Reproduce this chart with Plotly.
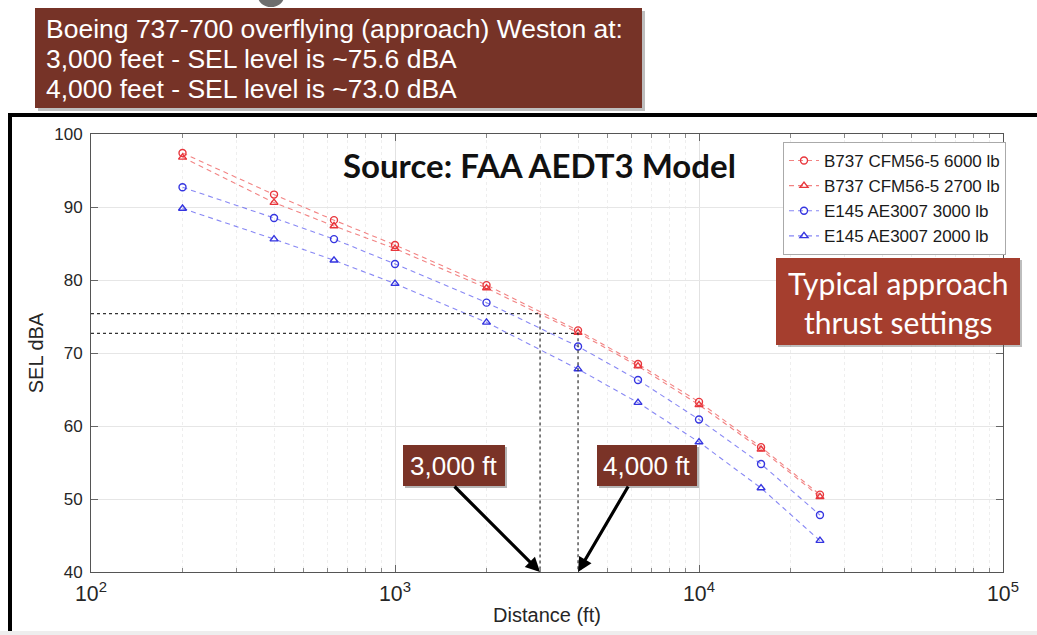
import math
import plotly.graph_objects as go

# ---------------- data ----------------
distance_ft = [200, 400, 630, 1000, 2000, 4000, 6300, 10000, 16000, 25000]
b737_6000 = [97.4, 91.7, 88.2, 84.8, 79.3, 73.1, 68.5, 63.3, 57.1, 50.6]
b737_2700 = [96.8, 90.6, 87.4, 84.3, 78.9, 72.8, 68.2, 62.9, 56.8, 50.3]
e145_3000 = [92.7, 88.5, 85.6, 82.2, 76.9, 70.9, 66.3, 60.9, 54.8, 47.8]
e145_2000 = [89.8, 85.6, 82.7, 79.5, 74.2, 67.8, 63.2, 57.8, 51.5, 44.3]
series_names = ["B737 CFM56-5 6000 lb", "B737 CFM56-5 2700 lb",
                "E145 AE3007 3000 lb", "E145 AE3007 2000 lb"]
ref_distances = [3000, 4000]
ref_levels = [75.4, 72.7]
ref_labels = ["3,000 ft", "4,000 ft"]
y_ticks = [40, 50, 60, 70, 80, 90, 100]
title_lines = ["Boeing 737-700 overflying (approach) Weston at:",
               "3,000 feet - SEL level is ~75.6 dBA",
               "4,000 feet - SEL level is ~73.0 dBA"]

# ---------------- layout helpers (pixels -> paper) ----------------
W, H = 1037, 635
L, R, T, B = 91, 1003, 134, 572


def px(x):
    return (x - L) / (R - L)


def py(y):
    return (B - y) / (B - T)


RED_LINE = "rgba(238,90,90,0.75)"
RED_MK = "#e8363c"
BLUE_LINE = "rgba(95,95,240,0.75)"
BLUE_MK = "#3535e0"

fig = go.Figure()
styles = [
    (b737_6000, RED_LINE, RED_MK, "circle-open"),
    (b737_2700, RED_LINE, RED_MK, "triangle-up-open"),
    (e145_3000, BLUE_LINE, BLUE_MK, "circle-open"),
    (e145_2000, BLUE_LINE, BLUE_MK, "triangle-up-open"),
]
for name, (vals, lc, mc, sym) in zip(series_names, styles):
    fig.add_trace(go.Scatter(
        x=distance_ft, y=vals, name=name, mode="lines+markers",
        line=dict(color=lc, width=1.1, dash="5px,4px"),
        marker=dict(symbol=sym, size=7, color=mc, line=dict(color=mc, width=1.4)),
    ))

# dotted reference lines
for d, lvl in zip(ref_distances, ref_levels):
    fig.add_trace(go.Scatter(
        x=[100, d, d], y=[lvl, lvl, y_ticks[0]], mode="lines",
        line=dict(color="#333333", width=1.2, dash="dot"),
        showlegend=False, hoverinfo="skip",
    ))

shapes = []
annotations = []

# outer black frame and bottom strip
shapes.append(dict(type="rect", xref="paper", yref="paper",
                   x0=px(10), x1=px(1050), y0=py(115), y1=py(660),
                   line=dict(color="black", width=4), fillcolor="rgba(0,0,0,0)", layer="below"))
shapes.append(dict(type="rect", xref="paper", yref="paper",
                   x0=px(0), x1=px(1040), y0=py(631), y1=py(640),
                   line=dict(width=0), fillcolor="#eeeeee", layer="above"))

# gray blob at top (partly hidden slide element)
shapes.append(dict(type="circle", xref="paper", yref="paper",
                   x0=px(258), x1=px(284), y0=py(-14), y1=py(7),
                   line=dict(width=0), fillcolor="#6e6e6e"))

# title box with shadow
shapes.append(dict(type="rect", xref="paper", yref="paper",
                   x0=px(38), x1=px(645), y0=py(11), y1=py(111),
                   line=dict(width=0), fillcolor="rgba(110,110,110,0.45)"))
shapes.append(dict(type="rect", xref="paper", yref="paper",
                   x0=px(35), x1=px(642), y0=py(8), y1=py(108),
                   line=dict(width=0), fillcolor="#763327"))
for i, line in enumerate(title_lines):
    annotations.append(dict(text=line, xref="paper", yref="paper",
                            x=px(44), y=py(29 + 30 * i), xanchor="left", yanchor="middle",
                            showarrow=False,
                            font=dict(family="Liberation Sans", size=26.5, color="white")))

# Source text
annotations.append(dict(text="<b>Source: FAA AEDT3 Model</b>", xref="paper", yref="paper",
                        x=px(539), y=py(165), xanchor="center", yanchor="middle",
                        showarrow=False,
                        font=dict(family="Lato", size=33, color="#111111")))

# Typical approach box
shapes.append(dict(type="rect", xref="paper", yref="paper",
                   x0=px(778), x1=px(1022), y0=py(260), y1=py(347),
                   line=dict(width=0), fillcolor="rgba(90,90,90,0.4)"))
shapes.append(dict(type="rect", xref="paper", yref="paper",
                   x0=px(776), x1=px(1020), y0=py(258), y1=py(345),
                   line=dict(width=0), fillcolor="#a53e2e"))
annotations.append(dict(text="Typical approach<br>thrust settings", xref="paper", yref="paper",
                        x=px(898), y=py(302), xanchor="center", yanchor="middle",
                        showarrow=False, align="center",
                        font=dict(family="Lato", size=30, color="white")))

# distance label boxes and arrows
box_x = [(403, 505), (597, 697)]
tails = [(452, 487), (628, 487)]
heads_px = [(539, 574), (577, 574)]
for lab, (x0, x1), d, (tx, ty), (hx, hy) in zip(ref_labels, box_x, ref_distances, tails, heads_px):
    shapes.append(dict(type="rect", xref="paper", yref="paper",
                       x0=px(x0 + 2), x1=px(x1 + 2), y0=py(447), y1=py(488),
                       line=dict(width=0), fillcolor="rgba(90,90,90,0.45)"))
    shapes.append(dict(type="rect", xref="paper", yref="paper",
                       x0=px(x0), x1=px(x1), y0=py(445), y1=py(486),
                       line=dict(width=0), fillcolor="#7a3327"))
    annotations.append(dict(text=lab, xref="paper", yref="paper",
                            x=px((x0 + x1) / 2), y=py(466), xanchor="center", yanchor="middle",
                            showarrow=False,
                            font=dict(family="Liberation Sans", size=26, color="white")))
    annotations.append(dict(text="", xref="x", yref="y", x=math.log10(d), y=y_ticks[0],
                            ax=tx - hx, ay=ty - hy, showarrow=True,
                            arrowhead=2, arrowsize=0.9, arrowwidth=3.2, arrowcolor="black",
                            standoff=0))

axis_font = dict(family="Liberation Sans", size=17, color="#262626")
fig.update_layout(
    width=W, height=H, autosize=False,
    margin=dict(l=L, r=W - R, t=T, b=H - B, pad=0),
    paper_bgcolor="white", plot_bgcolor="white",
    showlegend=True,
    legend=dict(x=px(783), y=py(142), xanchor="left", yanchor="top",
                bgcolor="white", bordercolor="#aaaaaa", borderwidth=1,
                font=dict(family="Liberation Sans", size=17, color="#1a1a1a"),
                tracegroupgap=0, itemwidth=30),
    xaxis=dict(type="log", range=[2, 5], dtick=1, exponentformat="power",
               showline=True, linecolor="#555555", linewidth=1, mirror="ticks",
               ticks="inside", ticklen=7, tickcolor="#666666",
               showgrid=True, gridcolor="#e2e2e2", zeroline=False,
               minor=dict(dtick="D1", ticks="inside", ticklen=4, tickcolor="#888888",
                          showgrid=True, gridcolor="#eeeeee", griddash="dot"),
               tickfont=axis_font, ticklabelstandoff=3,
               title=dict(text="Distance (ft)", standoff=3,
                          font=dict(family="Liberation Sans", size=20, color="#262626"))),
    yaxis=dict(range=[40, 100], tickvals=y_ticks,
               showline=True, linecolor="#555555", linewidth=1, mirror="ticks",
               ticks="inside", ticklen=7, tickcolor="#666666",
               showgrid=True, gridcolor="#e6e6e6", zeroline=False,
               tickfont=axis_font, ticklabelstandoff=4,
               title=dict(text="SEL dBA", standoff=5,
                          font=dict(family="Liberation Sans", size=20, color="#262626"))),
    shapes=shapes,
    annotations=annotations,
)

fig.write_html("out.html")
